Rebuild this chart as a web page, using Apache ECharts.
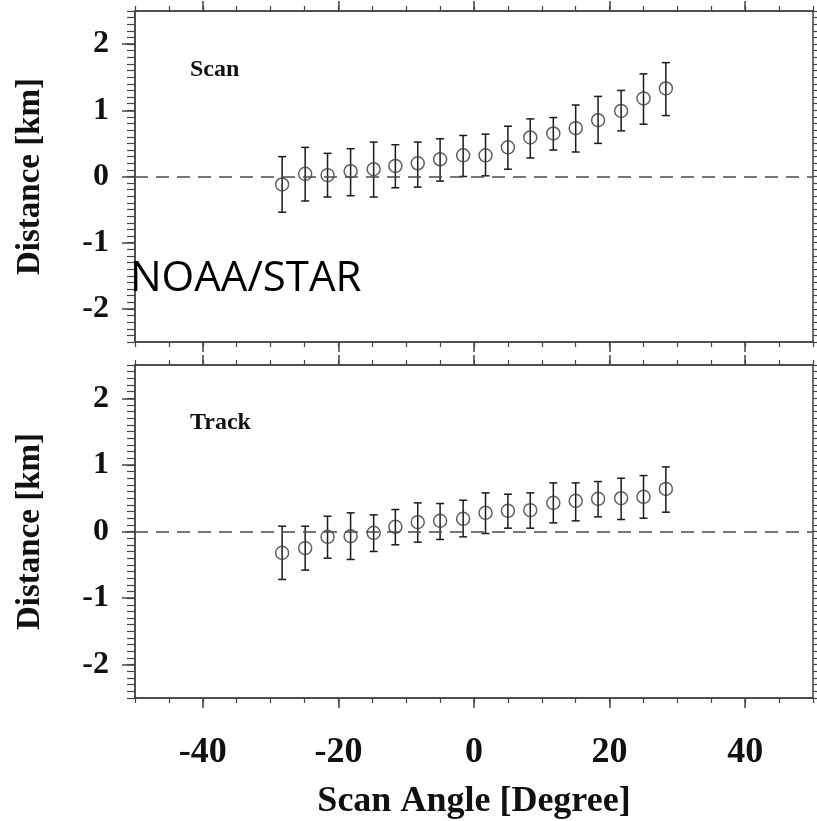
<!DOCTYPE html>
<html>
<head>
<meta charset="utf-8">
<script src="https://cdn.jsdelivr.net/npm/echarts@6/dist/echarts.min.js"></script>
<style>
  html, body { margin: 0; padding: 0; background: #fff; }
  #chart-container { width: 817px; height: 821px; }
</style>
</head>
<body>
<div id="chart-container"></div>
<script>
// scan angles of the 18 points (degree)
const angles = [-28.3, -24.9, -21.6, -18.2, -14.8, -11.6, -8.3, -5.0, -1.6,
    1.7, 5.0, 8.3, 11.7, 15.0, 18.3, 21.7, 25.0, 28.3];

// scan direction: mean and error bar ends (km)
const scanMean = [-0.12, 0.04, 0.02, 0.08, 0.11, 0.16, 0.20, 0.26, 0.32,
    0.32, 0.44, 0.59, 0.65, 0.73, 0.85, 0.99, 1.18, 1.33];
const scanLow = [-0.54, -0.37, -0.31, -0.29, -0.31, -0.17, -0.16, -0.07, 0.00,
    0.01, 0.11, 0.28, 0.40, 0.37, 0.50, 0.69, 0.79, 0.92];
const scanHigh = [0.30, 0.44, 0.35, 0.42, 0.52, 0.48, 0.52, 0.57, 0.62,
    0.64, 0.76, 0.87, 0.89, 1.08, 1.21, 1.30, 1.55, 1.72];

// track direction
const trackMean = [-0.32, -0.25, -0.08, -0.07, -0.02, 0.07, 0.14, 0.16, 0.19,
    0.28, 0.31, 0.32, 0.43, 0.46, 0.49, 0.50, 0.52, 0.64];
const trackLow = [-0.72, -0.58, -0.40, -0.42, -0.30, -0.20, -0.16, -0.12, -0.08,
    -0.03, 0.05, 0.05, 0.13, 0.16, 0.22, 0.18, 0.20, 0.29];
const trackHigh = [0.08, 0.08, 0.23, 0.28, 0.25, 0.33, 0.43, 0.42, 0.47,
    0.58, 0.56, 0.58, 0.73, 0.73, 0.75, 0.80, 0.84, 0.97];

const xTicks = [-40, -20, 0, 20, 40];
const yTicks = [-2, -1, 0, 1, 2];

let dom = document.getElementById("chart-container");
let myChart = echarts.init(dom, null, { renderer: "canvas" });

const serif = "'Liberation Serif', 'Times New Roman', serif";
const lineColor = "#444";

function xAxes(grid, showLabels) {
    let base = {
        gridIndex: grid, type: "value", min: -50, max: 50,
        splitLine: { show: false },
        axisLine: { onZero: false, lineStyle: { color: lineColor, width: 1.5 } },
    };
    return [
        Object.assign({}, base, {
            position: "bottom",
            axisTick: { customValues: xTicks, length: 10, lineStyle: { color: lineColor, width: 1.5 } },
            axisLabel: showLabels ? {
                customValues: xTicks, margin: 37, color: "#111",
                fontFamily: serif, fontWeight: "bold", fontSize: 36,
            } : { show: false },
            name: showLabels ? "Scan Angle [Degree]" : "",
            nameLocation: "middle", nameGap: 86,
            nameTextStyle: { fontFamily: serif, fontWeight: "bold", fontSize: 36, color: "#111" },
        }),
        Object.assign({}, base, {
            position: "bottom", interval: 5,
            axisTick: { length: 5, lineStyle: { color: lineColor, width: 1.2 } },
            axisLabel: { show: false },
        }),
        Object.assign({}, base, {
            position: "top",
            axisTick: { customValues: xTicks, length: 10, lineStyle: { color: lineColor, width: 1.5 } },
            axisLabel: { show: false },
        }),
        Object.assign({}, base, {
            position: "top", interval: 5,
            axisTick: { length: 5, lineStyle: { color: lineColor, width: 1.2 } },
            axisLabel: { show: false },
        }),
    ];
}

function yAxes(grid) {
    let base = {
        gridIndex: grid, type: "value", min: -2.5, max: 2.5,
        splitLine: { show: false },
        axisLine: { onZero: false, lineStyle: { color: lineColor, width: 1.5 } },
    };
    return [
        Object.assign({}, base, {
            position: "left",
            axisTick: { customValues: yTicks, length: 13, lineStyle: { color: lineColor, width: 1.5 } },
            axisLabel: {
                customValues: yTicks, margin: 26, color: "#111",
                fontFamily: serif, fontWeight: "bold", fontSize: 32,
            },
            name: "Distance [km]", nameLocation: "middle", nameGap: 88,
            nameTextStyle: { fontFamily: serif, fontWeight: "bold", fontSize: 33, color: "#111" },
        }),
        Object.assign({}, base, {
            position: "left", interval: 0.1,
            axisTick: { length: 8, lineStyle: { color: lineColor, width: 1.2 } },
            axisLabel: { show: false },
        }),
        Object.assign({}, base, {
            position: "right", interval: 0.1,
            axisTick: { length: 6, lineStyle: { color: lineColor, width: 1.2 } },
            axisLabel: { show: false },
        }),
    ];
}

function errorBar(params, api) {
    let x = api.value(0);
    let lo = api.coord([x, api.value(1)]);
    let hi = api.coord([x, api.value(2)]);
    let w = 4;
    let style = { stroke: "#1a1a1a", lineWidth: 1.5 };
    return {
        type: "group",
        children: [
            { type: "line", shape: { x1: lo[0], y1: lo[1], x2: hi[0], y2: hi[1] }, style: style },
            { type: "line", shape: { x1: lo[0] - w, y1: lo[1], x2: lo[0] + w, y2: lo[1] }, style: style },
            { type: "line", shape: { x1: hi[0] - w, y1: hi[1], x2: hi[0] + w, y2: hi[1] }, style: style },
        ],
    };
}

function panelSeries(name, grid, mean, low, high) {
    let xi = grid * 4;
    let yi = grid * 3;
    return [
        {
            name: name + " bars", type: "custom", xAxisIndex: xi, yAxisIndex: yi,
            renderItem: errorBar,
            encode: { x: 0, y: [1, 2] },
            data: angles.map((a, i) => [a, low[i], high[i]]),
            z: 3,
        },
        {
            name: name, type: "scatter", xAxisIndex: xi, yAxisIndex: yi,
            symbol: "circle", symbolSize: 13,
            itemStyle: { color: "rgba(0,0,0,0)", borderColor: "#3a3a3a", borderWidth: 1.5 },
            data: angles.map((a, i) => [a, mean[i]]),
            markLine: {
                silent: true, symbol: ["none", "none"],
                label: { show: false },
                lineStyle: { color: "#4a4a4a", type: [13, 8], width: 1.5 },
                data: [{ yAxis: 0 }],
            },
            z: 4,
        },
    ];
}

let option = {
    animation: false,
    backgroundColor: "#fff",
    title: [
        { text: "Scan", left: 185, top: 53, textStyle: { fontFamily: serif, fontWeight: "bold", fontSize: 24, color: "#111" } },
        { text: "Track", left: 185, top: 406, textStyle: { fontFamily: serif, fontWeight: "bold", fontSize: 24, color: "#111" } },
        { text: "NOAA/STAR", left: 125, top: 253, textStyle: { fontFamily: "'Open Sans', sans-serif", fontWeight: "normal", fontSize: 42, color: "#000" } },
    ],
    grid: [
        { left: 135, top: 11, width: 678, height: 331 },
        { left: 135, top: 365, width: 678, height: 334 },
    ],
    xAxis: xAxes(0, false).concat(xAxes(1, true)),
    yAxis: yAxes(0).concat(yAxes(1)),
    series: panelSeries("Scan", 0, scanMean, scanLow, scanHigh)
        .concat(panelSeries("Track", 1, trackMean, trackLow, trackHigh)),
};

myChart.setOption(option);
window.addEventListener("resize", myChart.resize);
</script>
</body>
</html>
